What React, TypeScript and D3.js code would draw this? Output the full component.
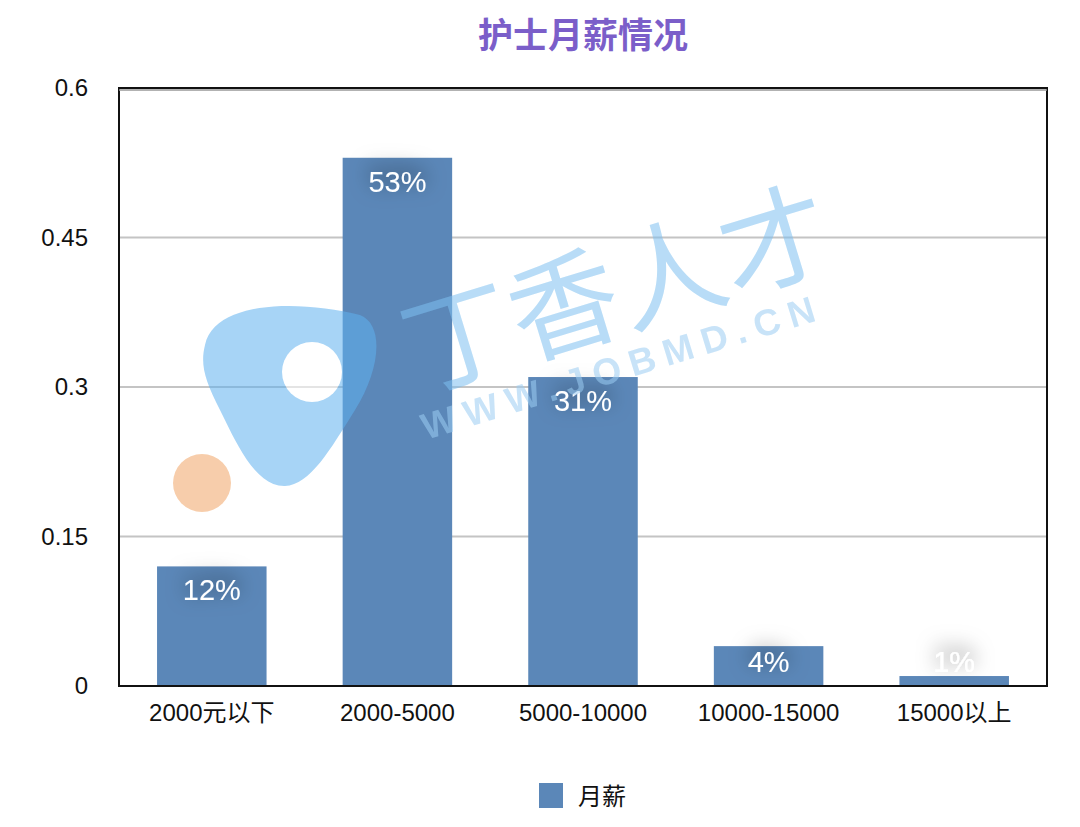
import { useEffect, useRef } from 'react';
import { axisLeft, scaleBand, scaleLinear, select } from 'd3';

const categories = ['2000元以下', '2000-5000', '5000-10000', '10000-15000', '15000以上'];
const values = [0.12, 0.53, 0.31, 0.04, 0.01];
const labels = ['12%', '53%', '31%', '4%', '1%'];
const yTicks = [0, 0.15, 0.3, 0.45, 0.6];
const seriesName = '月薪';
const title = '护士月薪情况';

const FONT = '"Helvetica Neue", Arial, "Liberation Sans", "Noto Sans CJK SC", sans-serif';
const BAR = '#5b87b8';

export default function App() {
  const ref = useRef<SVGSVGElement>(null);

  useEffect(() => {
    const el = ref.current;
    if (!el) return;
    const svg = select(el);
    svg.selectAll('*').remove();

    const W = 1080, H = 827;
    const margin = { top: 88, right: 33, bottom: 141, left: 119 };
    const width = W - margin.left - margin.right;
    const height = H - margin.top - margin.bottom;

    // soft gray glow behind the value labels
    const defs = svg.append('defs');
    const f = defs.append('filter').attr('id', 'glow').attr('x', '-80%').attr('y', '-150%').attr('width', '260%').attr('height', '400%');
    f.append('feGaussianBlur').attr('in', 'SourceAlpha').attr('stdDeviation', 10).attr('result', 'b');
    f.append('feOffset').attr('in', 'b').attr('dy', -6).attr('result', 'o');
    f.append('feFlood').attr('flood-color', '#000').attr('flood-opacity', 0.6);
    f.append('feComposite').attr('in2', 'o').attr('operator', 'in').attr('result', 's');
    const m = f.append('feMerge');
    m.append('feMergeNode').attr('in', 's');
    m.append('feMergeNode').attr('in', 'SourceGraphic');

    svg.append('text')
      .attr('x', 583).attr('y', 48)
      .attr('text-anchor', 'middle')
      .attr('font-family', FONT).attr('font-weight', 'bold').attr('font-size', 35)
      .attr('fill', '#7b5ec9')
      .text(title);

    const g = svg.append('g').attr('transform', `translate(${margin.left},${margin.top})`);

    const x = scaleBand().domain(categories).range([0, width]).paddingInner(0.41).paddingOuter(0.205);
    const y = scaleLinear().domain([0, 0.6]).range([height, 0]);

    // grid
    g.append('g').selectAll('line').data(yTicks.filter((t) => t > 0 && t < 0.6)).join('line')
      .attr('x1', 0).attr('x2', width)
      .attr('y1', (d) => y(d)).attr('y2', (d) => y(d))
      .attr('stroke', '#c4c4c4').attr('stroke-width', 2);

    // y axis labels
    g.append('g')
      .call(axisLeft(y).tickValues(yTicks).tickSize(0).tickPadding(31).tickFormat((d) => String(d)))
      .call((a) => {
        a.select('.domain').remove();
        a.selectAll('text').attr('font-family', FONT).attr('font-size', 24).attr('fill', '#111');
      });

    // bars
    g.append('g').selectAll('rect').data(values).join('rect')
      .attr('x', (_, i) => x(categories[i]) || 0)
      .attr('y', (d) => y(d))
      .attr('width', x.bandwidth())
      .attr('height', (d) => height - y(d))
      .attr('fill', BAR);

    // frame
    g.append('rect').attr('x', 0).attr('y', 0).attr('width', width).attr('height', height)
      .attr('fill', 'none').attr('stroke', '#111').attr('stroke-width', 2);
    g.append('line').attr('x1', 0).attr('x2', width).attr('y1', 2).attr('y2', 2)
      .attr('stroke', '#999').attr('stroke-width', 1.5);

    // watermark
    const wm = svg.append('g').attr('opacity', 0.55);
    wm.append('path')
      .attr('d', 'M205,345 C215,300 300,300 360,315 C385,325 380,370 355,410 C330,450 310,485 285,486 C255,487 235,440 220,410 C205,380 200,365 205,345 Z')
      .attr('fill', '#5fb1ef');
    wm.append('circle').attr('cx', 312).attr('cy', 372).attr('r', 30).attr('fill', '#fff').attr('opacity', 1);
    wm.append('circle').attr('cx', 202).attr('cy', 483).attr('r', 29).attr('fill', '#f1a566');
    wm.append('text')
      .attr('transform', 'translate(418,392) rotate(-17)')
      .attr('font-family', FONT).attr('font-size', 110).attr('fill', '#7ec0f0')
      .text('丁香人才');
    wm.append('text')
      .attr('transform', 'translate(426,440) rotate(-17)')
      .attr('font-family', FONT).attr('font-weight', 'bold').attr('font-size', 37)
      .attr('letter-spacing', 9).attr('fill', '#9ccdf2')
      .text('WWW.JOBMD.CN');

    // value labels (inside top, kept above a floor for short bars)
    g.append('g').selectAll('text').data(values).join('text')
      .attr('x', (_, i) => (x(categories[i]) || 0) + x.bandwidth() / 2)
      .attr('y', (d) => Math.min(y(d) + 24, height - 24) + 10)
      .attr('text-anchor', 'middle')
      .attr('font-family', FONT).attr('font-size', 29)
      .attr('fill', '#fff')
      .attr('filter', 'url(#glow)')
      .text((_, i) => labels[i]);

    // x labels
    g.append('g').selectAll('text').data(categories).join('text')
      .attr('x', (d) => (x(d) || 0) + x.bandwidth() / 2)
      .attr('y', height + 35)
      .attr('text-anchor', 'middle')
      .attr('font-family', FONT).attr('font-size', 24).attr('fill', '#111')
      .text((d) => d);

    // legend
    const lg = svg.append('g').attr('transform', 'translate(539,783)');
    lg.append('rect').attr('width', 24).attr('height', 25).attr('fill', BAR);
    lg.append('text').attr('x', 39).attr('y', 22)
      .attr('font-family', FONT).attr('font-size', 24).attr('fill', '#111')
      .text(seriesName);
  }, []);

  return (
    <svg ref={ref} width={1080} height={827} style={{ display: 'block', position: 'absolute', left: 0, top: 0, background: '#fff' }} />
  );
}
